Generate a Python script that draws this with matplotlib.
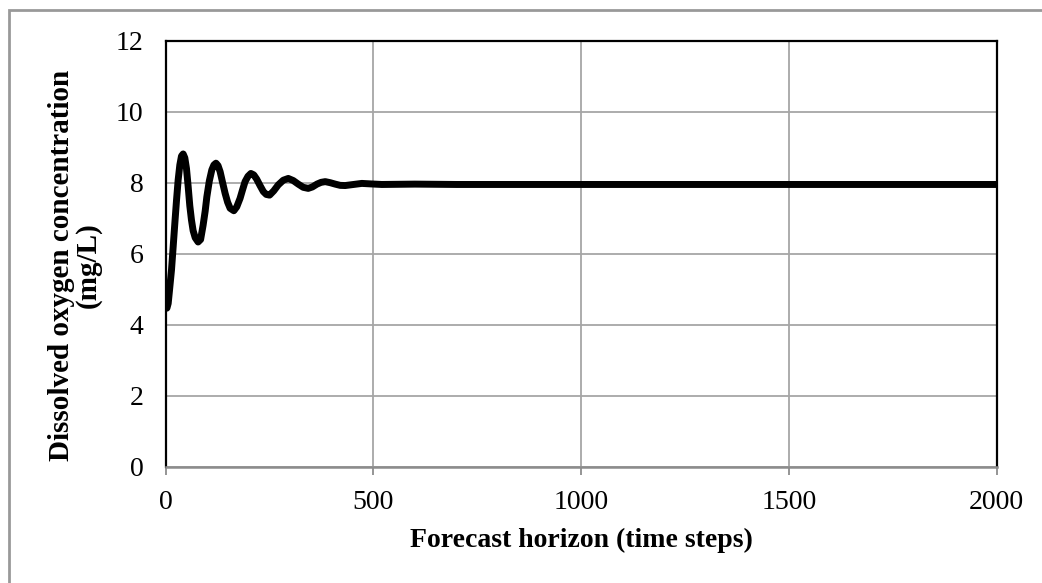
import matplotlib.pyplot as plt
from matplotlib.patches import Rectangle

plt.rcParams['font.family'] = ['Liberation Serif', 'DejaVu Serif']

# forecast of dissolved oxygen over the horizon
steps = [0, 3, 6, 9, 14, 18, 22, 26, 30, 34, 38, 42, 46, 50, 54, 58, 62, 66, 71, 78,
         84, 90, 95, 99, 105, 111, 116, 121, 126, 131, 137, 143, 149, 155, 164, 171,
         179, 185, 191, 198, 205, 212, 219, 227, 235, 242, 250, 260, 271, 283, 295,
         307, 319, 331, 343, 353, 364, 374, 384, 396, 408, 420, 432, 452, 472, 495,
         520, 600, 700, 1000, 1500, 2000]
oxygen = [4.45, 4.47, 4.6, 4.95, 5.55, 6.2, 6.86, 7.5, 8.08, 8.5, 8.75, 8.81, 8.7, 8.4,
          7.9, 7.35, 6.95, 6.65, 6.45, 6.33, 6.4, 6.8, 7.2, 7.6, 8.05, 8.36, 8.5, 8.55,
          8.48, 8.31, 8.0, 7.7, 7.45, 7.28, 7.21, 7.32, 7.56, 7.8, 8.03, 8.18, 8.26,
          8.22, 8.1, 7.92, 7.75, 7.67, 7.65, 7.77, 7.94, 8.07, 8.12, 8.06, 7.96, 7.87,
          7.84, 7.88, 7.96, 8.01, 8.03, 8.0, 7.96, 7.925, 7.92, 7.95, 7.98, 7.965,
          7.95, 7.96, 7.95, 7.95, 7.95, 7.95]

x_ticks = [0, 500, 1000, 1500, 2000]
y_ticks = [0, 2, 4, 6, 8, 10, 12]

W, H = 1042, 583
fig = plt.figure(figsize=(W / 100, H / 100), dpi=100)
ax = fig.add_axes([165.7 / W, 1 - 466.7 / H, 831 / W, 426 / H])

ax.plot(steps, oxygen, color='black', linewidth=5,
        solid_joinstyle='round', solid_capstyle='butt', zorder=3)

ax.set_xlim(0, 2000)
ax.set_ylim(0, 12)
ax.set_xticks(x_ticks)
ax.set_yticks(y_ticks)
ax.grid(True, color='#a6a6a6', linewidth=1.3)
ax.set_axisbelow(True)

for side in ['left', 'top', 'right']:
    ax.spines[side].set_color('black')
    ax.spines[side].set_linewidth(1.6)
ax.spines['bottom'].set_color('#8c8c8c')
ax.spines['bottom'].set_linewidth(1.8)

ax.tick_params(axis='x', direction='out', length=5.8, width=1.3, color='#8c8c8c',
               pad=11, labelsize=20)
ax.tick_params(axis='y', length=0, pad=16, labelsize=20)

fig.text(581 / W, 1 - 540 / H, 'Forecast horizon (time steps)', ha='center', va='center',
         fontsize=20, fontweight='bold')
fig.text(75 / W, 1 - 265 / H, 'Dissolved oxygen concentration\n(mg/L)', ha='center',
         va='center', rotation=90, fontsize=21, fontweight='bold', linespacing=0.95)

# light chart-area border
fig.patches.append(Rectangle((8.5 / W, -0.1), 1.2, 1.1 - 10.5 / H, transform=fig.transFigure,
                             fill=False, edgecolor='#999999', linewidth=2))

fig.savefig('out.png', dpi=100)
